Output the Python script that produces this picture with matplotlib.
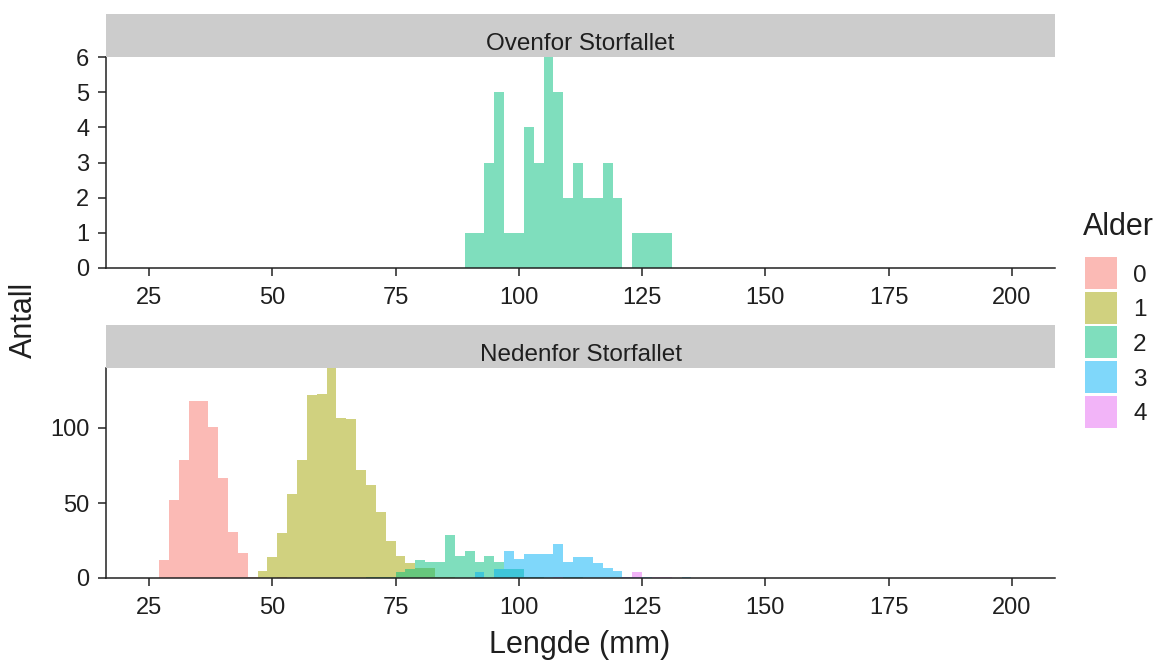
import matplotlib
matplotlib.use("Agg")
import matplotlib.pyplot as plt
from matplotlib.patches import Rectangle

# ---- data: fish counts per 2 mm length class ----
bin_width = 2
ages = ["0", "1", "2", "3", "4"]
age_colors = ["#F8766D", "#A3A500", "#00BF7D", "#00B0F6", "#E76BF3"]
x_ticks = [25, 50, 75, 100, 125, 150, 175, 200]

# Ovenfor Storfallet (only age 2 caught)
above_age2_start = 89
above_age2_counts = [1, 1, 3, 5, 1, 1, 4, 3, 6, 5, 2, 3, 2, 2, 3, 2, 0, 1, 1, 1, 1]

# Nedenfor Storfallet
below_age0_start = 27
below_age0_counts = [12, 52, 79, 118, 118, 101, 67, 31, 17, 1, 0, 0, 1]
below_age1_start = 47
below_age1_counts = [5, 14, 30, 56, 79, 122, 123, 140, 107, 106, 72, 62, 44, 25,
                     15, 10, 7, 7, 1, 1]
below_age2_start = 69
below_age2_counts = [1, 1, 1, 4, 6, 12, 11, 11, 29, 15, 18, 11, 15, 11, 6, 6, 1, 1,
                     0, 0, 1, 1]
below_age3_start = 91
below_age3_counts = [4, 0, 6, 18, 13, 16, 16, 16, 23, 11, 14, 14, 10, 7, 5, 1, 1, 1,
                     0, 0, 0, 1]
below_age4_start = 107
below_age4_counts = [1, 0, 0, 0, 0, 0, 0, 1, 4, 0, 1, 1]

panels = [
    ("Ovenfor Storfallet", [("2", above_age2_start, above_age2_counts)], [0, 1, 2, 3, 4, 5, 6]),
    ("Nedenfor Storfallet", [("0", below_age0_start, below_age0_counts),
                             ("1", below_age1_start, below_age1_counts),
                             ("2", below_age2_start, below_age2_counts),
                             ("3", below_age3_start, below_age3_counts),
                             ("4", below_age4_start, below_age4_counts)], [0, 50, 100]),
]

# ---- figure ----
W, H = 1162, 661
plt.rcParams["font.family"] = ["Liberation Sans", "DejaVu Sans"]
fig = plt.figure(figsize=(W / 100, H / 100), dpi=100)


def fx(x):
    return x / W


def fy(y):
    return 1 - y / H


ink = "#1f1f1f"
left_px, right_px = 106, 1055
panel_rows = [(14, 57, 268), (325, 368, 578)]  # strip top, panel top, panel bottom

for (title, groups, yticks), (s_top, p_top, p_bot) in zip(panels, panel_rows):
    ax = fig.add_axes([fx(left_px), fy(p_bot), fx(right_px) - fx(left_px),
                       fy(p_top) - fy(p_bot)])
    ymax = 0
    for age, start, counts in groups:
        edges = [start + i * bin_width for i in range(len(counts))]
        color = age_colors[ages.index(age)]
        ax.bar(edges, counts, width=bin_width, align="edge", color=color,
               alpha=0.5, linewidth=0)
        ymax = max(ymax, max(counts))
    ax.set_xlim(16.25, 208.75)
    ax.set_ylim(0, ymax)
    ax.set_xticks(x_ticks)
    ax.set_yticks(yticks)
    for side in ("top", "right"):
        ax.spines[side].set_visible(False)
    for side in ("left", "bottom"):
        ax.spines[side].set_linewidth(1.1)
        ax.spines[side].set_color("#222222")
    ax.tick_params(axis="both", length=6, width=1.1, color="#222222",
                   labelsize=17, labelcolor=ink)
    ax.tick_params(axis="x", pad=7.7)
    ax.tick_params(axis="y", pad=6)

    # facet strip
    sax = fig.add_axes([fx(left_px), fy(p_top), fx(right_px) - fx(left_px),
                        fy(s_top) - fy(p_top)])
    sax.set_facecolor("#CCCCCC")
    sax.set_xticks([])
    sax.set_yticks([])
    for sp in sax.spines.values():
        sp.set_visible(False)
    fig.text(fx((left_px + right_px) / 2), fy(p_top - 7), title, ha="center",
             va="baseline", fontsize=17.5, color=ink)

# axis titles
fig.text(fx(580), fy(653), "Lengde (mm)", ha="center", va="baseline",
         fontsize=22, color=ink)
fig.text(fx(24), fy(320), "Antall", ha="center", va="center", rotation=90,
         fontsize=22, color=ink)

# legend
fig.text(fx(1083), fy(235), "Alder", ha="left", va="baseline", fontsize=22,
         color=ink)
key_w, key_h, key_step = 32, 32, 34.7
for i, (age, color) in enumerate(zip(ages, age_colors)):
    y_top = 257 + i * key_step
    fig.patches.append(Rectangle((fx(1085), fy(y_top + key_h)), fx(key_w),
                                 key_h / H, transform=fig.transFigure,
                                 facecolor=color, alpha=0.5, edgecolor="none"))
    fig.text(fx(1133), fy(y_top + key_h / 2), age, ha="left", va="center_baseline",
             fontsize=17.5, color=ink)

fig.savefig("out.png", dpi=100)
